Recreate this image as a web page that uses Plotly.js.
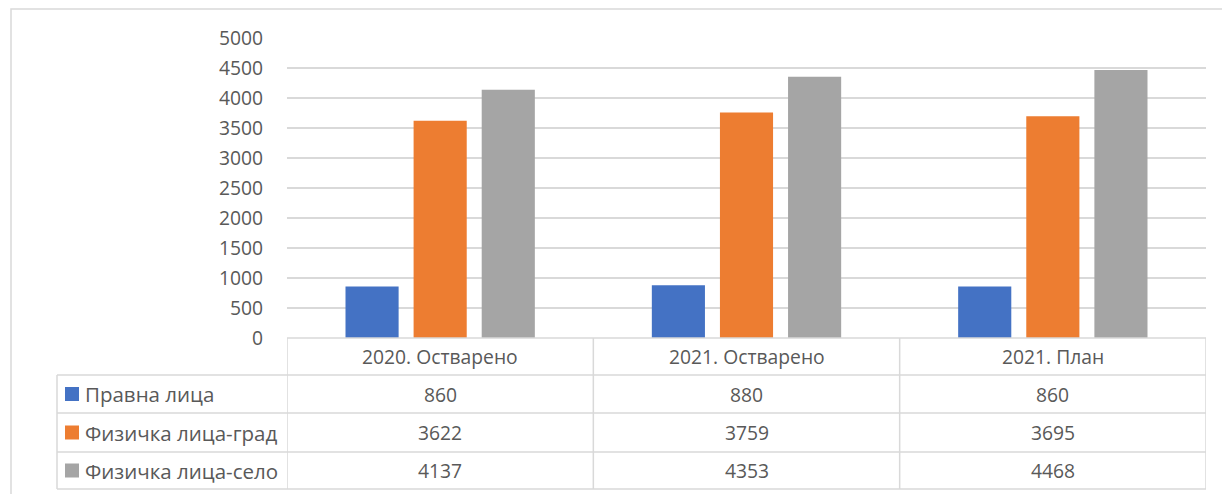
<!DOCTYPE html>
<html>
<head>
<meta charset="utf-8">
<script src="https://cdn.plot.ly/plotly-3.0.1.min.js"></script>
<style>html,body{margin:0;padding:0;background:#fff;}#chart{width:1222px;height:494px;}</style>
</head>
<body>
<div id="chart"></div>
<script>
const categories = ["2020. Остварено", "2021. Остварено", "2021. План"];
const seriesNames = ["Правна лица", "Физичка лица-град", "Физичка лица-село"];
const pravnaLica = [860, 880, 860];
const fizickaGrad = [3622, 3759, 3695];
const fizickaSelo = [4137, 4353, 4468];
const colors = ["#4472C4", "#ED7D31", "#A5A5A5"];
const yTicks = [0, 500, 1000, 1500, 2000, 2500, 3000, 3500, 4000, 4500, 5000];

const seriesValues = [pravnaLica, fizickaGrad, fizickaSelo];
const W = 1222, H = 494;
const L = 287, R = 1206, T = 38, B = 338;
const pw = R - L, ph = B - T;
const px2x = v => (v - L) / pw;
const py2y = v => (B - v) / ph;
const txt = "#595959";
const lineC = "#d9d9d9";
const fontFam = "Open Sans, Noto Sans, sans-serif";
const fs = 19.3;
const fsLegend = 20.5;

const traces = seriesValues.map((vals, i) => ({
  type: "bar",
  name: seriesNames[i],
  x: categories,
  y: vals,
  marker: {color: colors[i]},
  hoverinfo: "x+y+name"
}));

const rowEdges = [338, 375, 413, 452, 489];
const shapes = [];
const annotations = [];

// outer chart border (top and left visible)
shapes.push({type: "rect", xref: "paper", yref: "paper",
  x0: px2x(11), x1: px2x(1240), y0: py2y(510), y1: py2y(9),
  line: {color: lineC, width: 1.5}, fillcolor: "rgba(0,0,0,0)", layer: "below"});

// horizontal table lines
rowEdges.forEach((e, k) => {
  shapes.push({type: "line", xref: "paper", yref: "paper",
    x0: k === 0 ? px2x(L) : px2x(57), x1: px2x(R), y0: py2y(e), y1: py2y(e),
    line: {color: lineC, width: 1.5}});
});
// vertical lines
shapes.push({type: "line", xref: "paper", yref: "paper", x0: px2x(57), x1: px2x(57),
  y0: py2y(375), y1: py2y(489), line: {color: lineC, width: 1.5}});
[-0.5, 0.5, 1.5, 2.5].forEach(xv => {
  shapes.push({type: "line", xref: "x", yref: "paper", x0: xv, x1: xv,
    y0: py2y(338), y1: py2y(489), line: {color: lineC, width: 1.5}});
});

// header labels
categories.forEach((c, j) => {
  annotations.push({xref: "x", yref: "paper", x: j, y: py2y((rowEdges[0] + rowEdges[1]) / 2),
    text: c, showarrow: false, font: {family: fontFam, size: fs, color: txt}, xanchor: "center", yanchor: "middle"});
});

// data rows
seriesValues.forEach((vals, i) => {
  const yc = py2y((rowEdges[i + 1] + rowEdges[i + 2]) / 2);
  shapes.push({type: "rect", xref: "paper", yref: "paper", xsizemode: "pixel", ysizemode: "pixel",
    xanchor: px2x(65), yanchor: yc, x0: 0, x1: 14, y0: -7, y1: 7,
    fillcolor: colors[i], line: {width: 0}});
  annotations.push({xref: "paper", yref: "paper", x: px2x(83), y: yc, text: seriesNames[i],
    showarrow: false, xanchor: "left", yanchor: "middle", font: {family: fontFam, size: fsLegend, color: txt}});
  vals.forEach((v, j) => {
    annotations.push({xref: "x", yref: "paper", x: j, y: yc, text: String(v),
      showarrow: false, xanchor: "center", yanchor: "middle", font: {family: fontFam, size: fs, color: txt}});
  });
});

const layout = {
  width: W, height: H,
  margin: {l: L, r: W - R, t: T, b: H - B, pad: 0},
  paper_bgcolor: "#fff", plot_bgcolor: "#fff",
  showlegend: false,
  barmode: "group", bargap: 0.333, bargroupgap: 0.22,
  font: {family: fontFam, size: fs, color: txt},
  xaxis: {type: "category", range: [-0.5, 2.5], showticklabels: false, showgrid: false,
    zeroline: false, showline: false, ticks: "", fixedrange: true},
  yaxis: {range: [0, 5000], tickvals: yTicks, ticktext: yTicks.map(String), showgrid: true,
    gridcolor: lineC, gridwidth: 1.5, zeroline: false, showline: false, ticks: "",
    ticklabelstandoff: 23, tickfont: {family: fontFam, size: fs, color: txt}, fixedrange: true},
  shapes: shapes,
  annotations: annotations
};

Plotly.newPlot("chart", traces, layout, {displayModeBar: false, staticPlot: true});
</script>
</body>
</html>
